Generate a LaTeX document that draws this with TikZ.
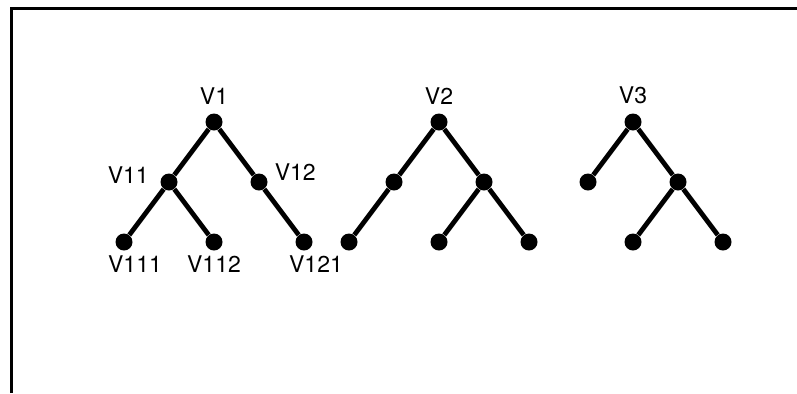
\documentclass[tikz,border=0pt]{standalone}
\usepackage{fontspec}
\setmainfont{TeX Gyre Heros}
\usepackage{tikz}
\usetikzlibrary{shapes}
\tikzset{
  dot node/.style={circle,fill,inner sep=0pt,minimum size=8.5pt},
  tag/.style={font=\fontsize{11.5}{13}\selectfont,inner sep=1pt},
  frame/.style={line width=1.5pt}
}

\begin{document}
\begin{tikzpicture}[x=0.5pt,y=-0.5pt,
	      level distance=30pt, sibling distance=45pt,
	      edge from parent/.style={draw,line width=2.4pt},
	      every label/.style={tag}
	    ]
        \useasboundingbox (0,0) rectangle (797,393);
        \draw [frame] (11,393) -- (11,8) -- (797,8);
        % first tree, labelled
        \node [dot node,label={[label distance=3.25pt]above:V1}] (v1) at (214,122) {}
          child {node [dot node,label={[label distance=4.5pt,yshift=3.5pt]left:V11}] (v11) {}
            child {node [dot node,label={[label distance=1pt,xshift=5.5pt]below:V111}] (v111) {}}
            child {node [dot node,label={[label distance=1pt]below:V112}] (v112) {}}
                            }
          child {node [dot node,label={[label distance=2.25pt,yshift=5pt]right:V12}] (v12) {}
            child [missing] {}
            child {node [dot node,label={[label distance=1pt,xshift=6pt]below:V121}] (v121) {}}
          };
        % second tree
        \node [dot node,label={[label distance=3.25pt]above:V2}] (v2) at (439,122) {}
          child {node [dot node] (v21) {}
            child {node [dot node] (v211) {}}
            child [missing] {}
                            }
          child {node [dot node] (v22) {}
            child {node [dot node] (v221) {}}
            child {node [dot node] (v222) {}}
          };
        % third tree
        \node [dot node,label={[label distance=3.25pt]above:V3}] (v3) at (633,122) {}
          child {node [dot node] (v31) {}}
          child {node [dot node] (v32) {}
            child {node [dot node] (v321) {}}
            child {node [dot node] (v322) {}}
          };
      \end{tikzpicture}
\end{document}
